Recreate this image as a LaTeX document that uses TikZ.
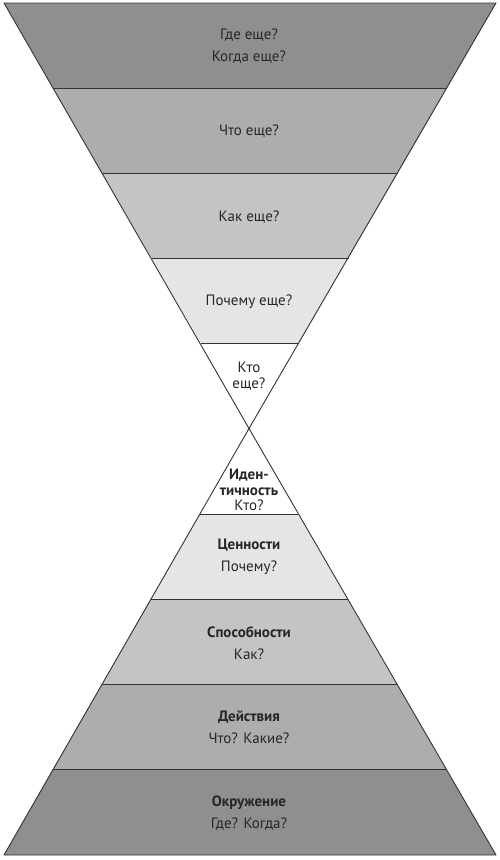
\documentclass[tikz,border=0pt]{standalone}
\usepackage{fontspec}
\setmainfont{PT Sans}
\begin{document}
\begin{tikzpicture}[x=1pt,y=-1pt,
  band/.style={draw=black!80,line width=0.9pt,line join=round},
  lbl/.style={font=\fontsize{15}{15.5}\selectfont,align=center,text=black!85,inner sep=0pt}]
\useasboundingbox (0,0) rectangle (500,860);
% top funnel
\coordinate (A) at (249,428.5);
\fill[black!44] (4,3) -- (496,3) -- (447,88) -- (53,88) -- cycle;
\fill[black!32] (53,88) -- (447,88) -- (398,173) -- (102,173) -- cycle;
\fill[black!23] (102,173) -- (398,173) -- (348.5,258) -- (151.5,258) -- cycle;
\fill[black!10] (151.5,258) -- (348.5,258) -- (299,343) -- (201,343) -- cycle;
\draw[band] (4,3) -- (496,3) -- (A) -- cycle;
\draw[band] (53,88) -- (447,88);
\draw[band] (102,173) -- (398,173);
\draw[band] (151.5,258) -- (348.5,258);
\draw[band] (201,343) -- (299,343);
% bottom pyramid
\fill[black!10] (200,514) -- (298,514) -- (347.5,599) -- (150.5,599) -- cycle;
\fill[black!23] (150.5,599) -- (347.5,599) -- (397,684) -- (102,684) -- cycle;
\fill[black!32] (102,684) -- (397,684) -- (446,769) -- (53,769) -- cycle;
\fill[black!44] (53,769) -- (446,769) -- (496,855) -- (4,855) -- cycle;
\draw[band] (A) -- (496,855) -- (4,855) -- cycle;
\draw[band] (200,514) -- (298,514);
\draw[band] (150.5,599) -- (347.5,599);
\draw[band] (102,684) -- (397,684);
\draw[band] (53,769) -- (446,769);
% labels
\node[lbl] (t1) at (249,46) {Где еще?\\[6pt]Когда еще?};
\node[lbl] (t2) at (249,131) {Что еще?};
\node[lbl] (t3) at (249,217) {Как еще?};
\node[lbl] (t4) at (249,302) {Почему еще?};
\node[lbl] (t5) at (249,376) {Кто\\еще?};
\node[lbl] (b5) at (249,490) {\textbf{Иден-}\\\textbf{тичность}\\Кто?};
\node[lbl] (b4) at (249,557) {\textbf{Ценности}\\[6pt]Почему?};
\node[lbl] (b3) at (249,643) {\textbf{Способности}\\[6pt]Как?};
\node[lbl] (b2) at (249,727.5) {\textbf{Действия}\\[6pt]Что? Какие?};
\node[lbl] (b1) at (249,813) {\textbf{Окружение}\\[6pt]Где? Когда?};
\end{tikzpicture}
\end{document}
